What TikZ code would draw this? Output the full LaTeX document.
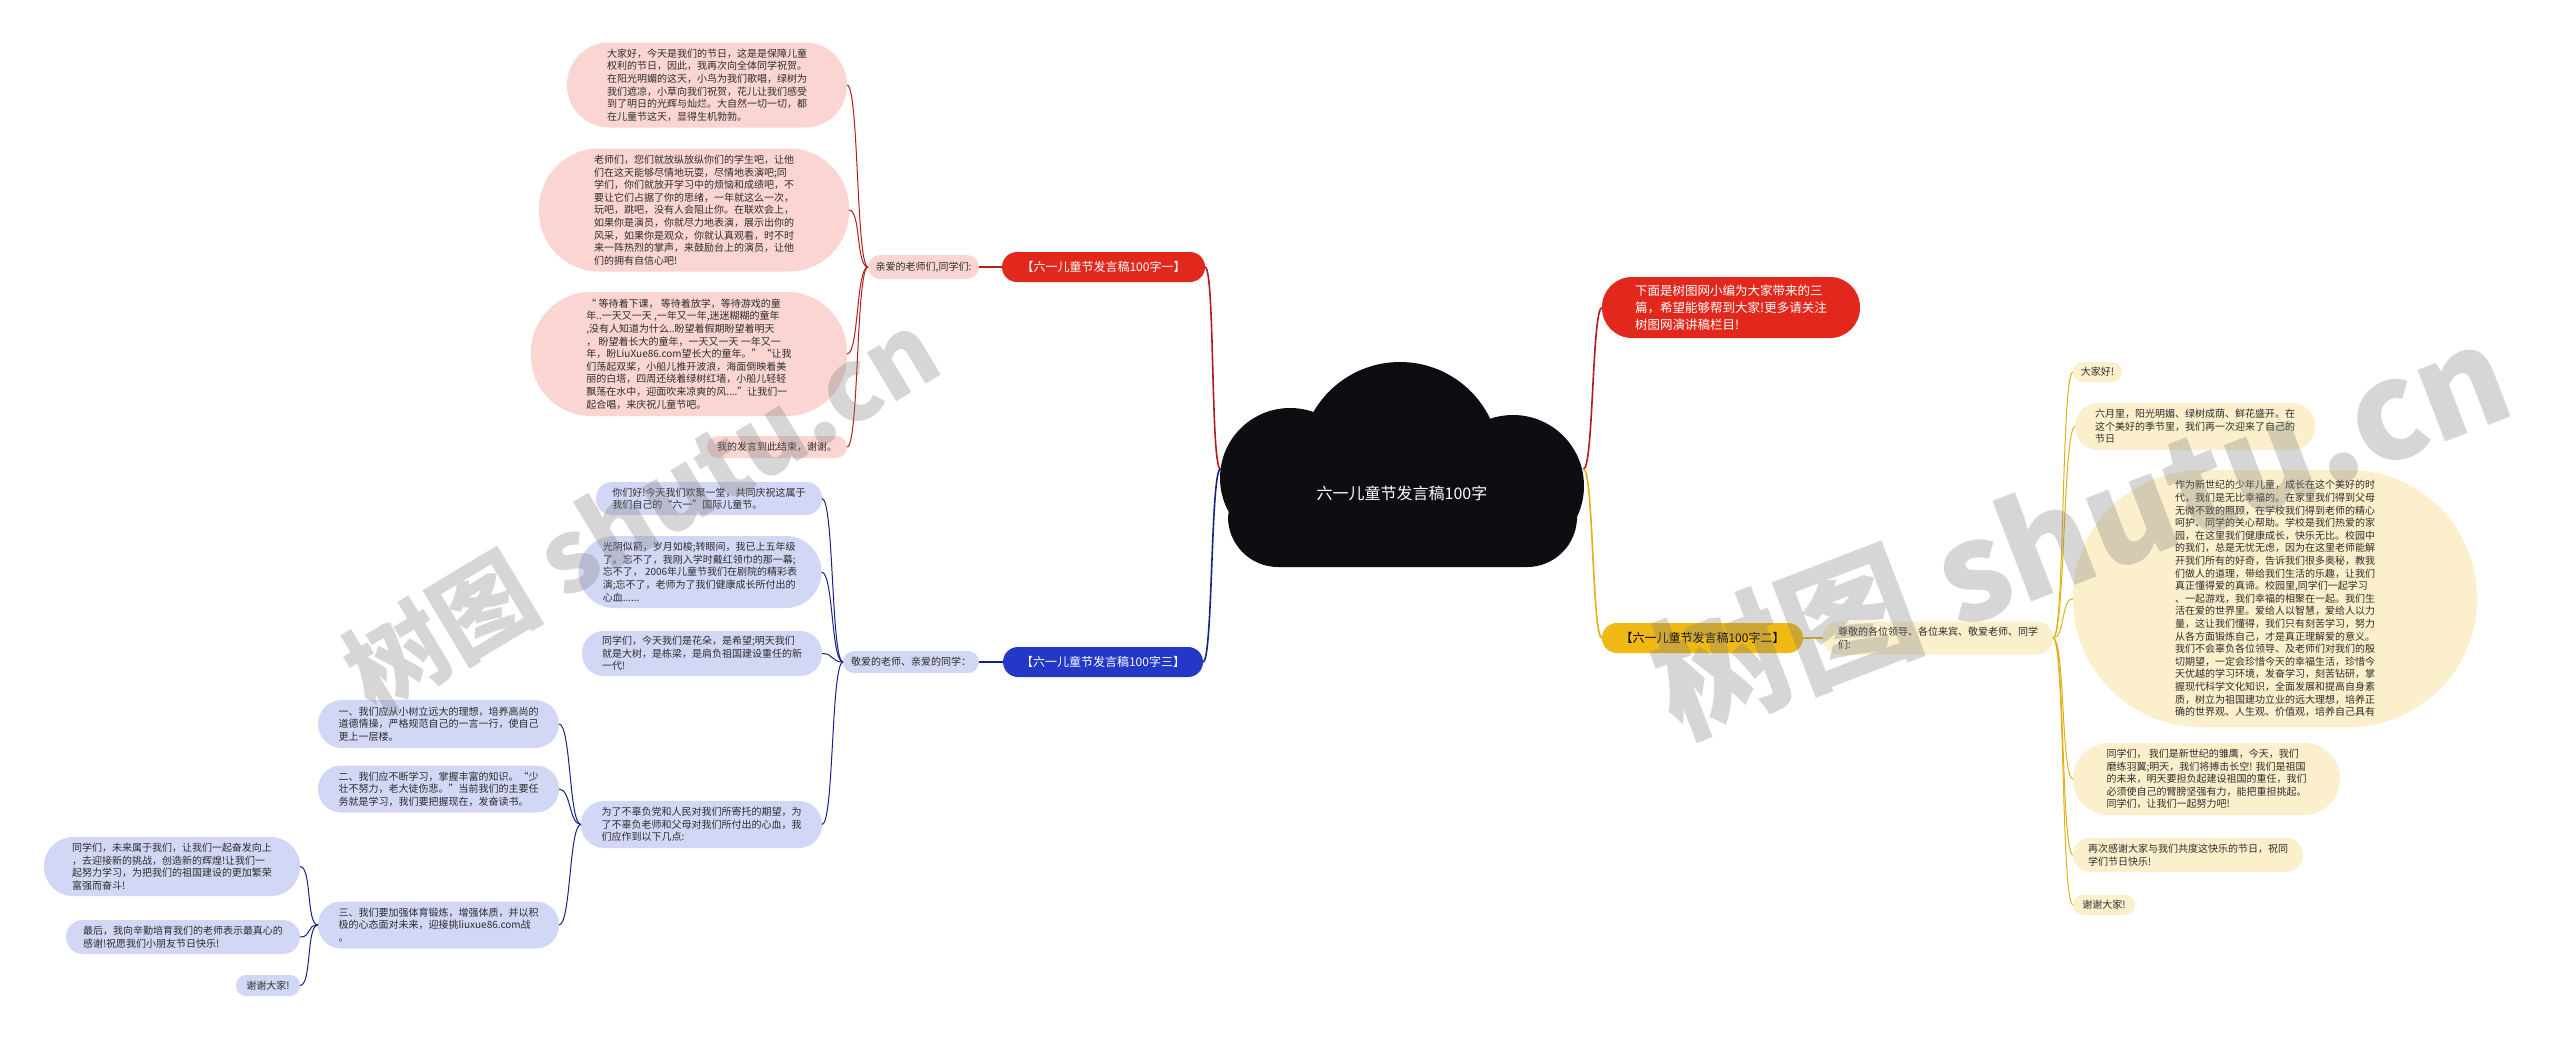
\documentclass[tikz,border=0pt]{standalone}
\usepackage{fontspec}
\setmainfont{Noto Sans CJK SC}
\usetikzlibrary{positioning}

\definecolor{redfill}{RGB}{226,40,28}
\definecolor{redline}{RGB}{178,28,28}
\definecolor{pinkfill}{RGB}{250,213,210}
\definecolor{bluefill}{RGB}{36,56,200}
\definecolor{blueline}{RGB}{22,34,128}
\definecolor{lavfill}{RGB}{210,215,245}
\definecolor{goldfill}{RGB}{240,184,18}
\definecolor{goldline}{RGB}{226,176,22}
\definecolor{creamfill}{RGB}{252,239,204}
\definecolor{inkdark}{RGB}{45,45,45}
\definecolor{cloudfill}{RGB}{14,14,18}

\begin{document}
\begin{tikzpicture}[
    x=1pt, y=-1pt,
    every node/.style={inner sep=0pt, outer sep=0pt},
    leaf/.style={rectangle, rounded corners=11pt, align=left, text=inkdark, font=\fontsize{10}{12.6}\selectfont},
    pinkleaf/.style={leaf, fill=pinkfill},
    lavleaf/.style={leaf, fill=lavfill},
    creamleaf/.style={leaf, fill=creamfill},
    branch/.style={rectangle, rounded corners=15pt, minimum height=30pt, font=\fontsize{12}{14}\selectfont, text=white},
    redlink/.style={draw=redline, line width=1.6pt},
    redtwig/.style={draw=redline, line width=1pt},
    bluelink/.style={draw=blueline, line width=1.6pt},
    bluetwig/.style={draw=blueline, line width=1pt},
    goldlink/.style={draw=goldline, line width=1.6pt},
    goldtwig/.style={draw=goldline, line width=1pt},
    watermark/.style={text=gray, text opacity=0.32, font=\fontsize{100}{100}\selectfont\bfseries}
]
    \fill[white] (0,0) rectangle (2560,1039);
    \useasboundingbox (0,0) rectangle (2560,1039);

    \fill[cloudfill] (1400,462) circle[radius=100pt] (1290,478) circle[radius=70pt] (1513,486) circle[radius=71pt];
    \fill[cloudfill, rounded corners=50pt] (1228,470) rectangle (1577,567);
    \node[font=\fontsize{16}{18}\selectfont, text=white, minimum width=363pt] (cloud) at (1402,493) {六一儿童节发言稿100字};

    \node[branch, fill=redfill, minimum width=203pt] (redmain) at (1103.5,267) {【六一儿童节发言稿100字一】};
    \node[pinkleaf, left=23pt of redmain, minimum width=111pt, minimum height=24pt, rounded corners=12pt] (redsub) {亲爱的老师们,同学们:};

    \node[pinkleaf, minimum width=280pt, minimum height=85pt, rounded corners=42pt] (p1) at (707,85) {大家好，今天是我们的节日，这是是保障儿童\\权利的节日，因此，我再次向全体同学祝贺。\\在阳光明媚的这天，小鸟为我们歌唱，绿树为\\我们遮凉，小草向我们祝贺，花儿让我们感受\\到了明日的光辉与灿烂。大自然一切一切，都\\在儿童节这天，显得生机勃勃。};
    \node[pinkleaf, minimum width=310pt, minimum height=123pt, rounded corners=60pt] (p2) at (694,210) {老师们，您们就放纵放纵你们的学生吧，让他\\们在这天能够尽情地玩耍，尽情地表演吧;同\\学们，你们就放开学习中的烦恼和成绩吧，不\\要让它们占据了你的思绪，一年就这么一次，\\玩吧，跳吧，没有人会阻止你。在联欢会上，\\如果你是演员，你就尽力地表演，展示出你的\\风采，如果你是观众，你就认真观看，时不时\\来一阵热烈的掌声，来鼓励台上的演员，让他\\们的拥有自信心吧!};
    \node[pinkleaf, minimum width=316pt, minimum height=124pt, rounded corners=60pt] (p3) at (689,354) {“ 等待着下课， 等待着放学，等待游戏的童\\年..一天又一天 ,一年又一年,迷迷糊糊的童年\\,没有人知道为什么..盼望着假期盼望着明天\\， 盼望着长大的童年，一天又一天 一年又一\\年，盼LiuXue86.com望长大的童年。”“让我\\们荡起双桨，小船儿推开波浪，海面倒映着美\\丽的白塔，四周还绕着绿树红墙，小船儿轻轻\\飘荡在水中，迎面吹来凉爽的风....”让我们一\\起合唱，来庆祝儿童节吧。};
    \node[pinkleaf, minimum width=140pt, minimum height=22pt] (p4) at (777,447) {我的发言到此结束，谢谢。};

    \node[branch, fill=bluefill, minimum width=200pt] (bluemain) at (1103,662) {【六一儿童节发言稿100字三】};
    \node[lavleaf, left=24pt of bluemain, minimum width=136pt, minimum height=22pt] (bluesub) {敬爱的老师、亲爱的同学：};

    \node[lavleaf, minimum width=226pt, minimum height=33pt, rounded corners=16pt] (b1) at (709,498.5) {你们好!今天我们欢聚一堂，共同庆祝这属于\\我们自己的“六一”国际儿童节。};
    \node[lavleaf, minimum width=243pt, minimum height=72pt, rounded corners=36pt] (b2) at (700,572) {光阴似箭，岁月如梭;转眼间，我已上五年级\\了。忘不了，我刚入学时戴红领巾的那一幕;\\忘不了， 2006年儿童节我们在剧院的精彩表\\演;忘不了，老师为了我们健康成长所付出的\\心血......};
    \node[lavleaf, minimum width=240pt, minimum height=45pt, rounded corners=22pt] (b3) at (702,653.5) {同学们，今天我们是花朵，是希望;明天我们\\就是大树，是栋梁，是肩负祖国建设重任的新\\一代!};
    \node[lavleaf, minimum width=241pt, minimum height=47pt, rounded corners=23pt] (b4) at (701.5,824.5) {为了不辜负党和人民对我们所寄托的期望，为\\了不辜负老师和父母对我们所付出的心血，我\\们应作到以下几点:};

    \node[lavleaf, minimum width=241pt, minimum height=48pt, rounded corners=24pt] (c1) at (438.5,724) {一、我们应从小树立远大的理想，培养高尚的\\道德情操，严格规范自己的一言一行，使自己\\更上一层楼。};
    \node[lavleaf, minimum width=241pt, minimum height=47pt, rounded corners=23pt] (c2) at (438.5,789) {二、我们应不断学习，掌握丰富的知识。“少\\壮不努力，老大徒伤悲。”当前我们的主要任\\务就是学习，我们要把握现在，发奋读书。};
    \node[lavleaf, minimum width=241pt, minimum height=47pt, rounded corners=23pt] (c3) at (438.5,925) {三、我们要加强体育锻炼，增强体质，并以积\\极的心态面对未来，迎接挑liuxue86.com战\\。};

    \node[lavleaf, minimum width=256pt, minimum height=59pt, rounded corners=29pt] (d1) at (172,866.5) {同学们，未来属于我们，让我们一起奋发向上\\，去迎接新的挑战，创造新的辉煌!让我们一\\起努力学习，为把我们的祖国建设的更加繁荣\\富强而奋斗!};
    \node[lavleaf, minimum width=234pt, minimum height=34pt, rounded corners=17pt] (d2) at (183,937) {最后，我向辛勤培育我们的老师表示最真心的\\感谢!祝愿我们小朋友节日快乐!};
    \node[lavleaf, minimum width=64pt, minimum height=21pt, rounded corners=10pt] (d3) at (268,985.5) {谢谢大家!};

    \node[branch, fill=redfill, minimum width=258pt, minimum height=61pt, rounded corners=30pt, align=left, font=\fontsize{12.5}{17}\selectfont] (redR) at (1731,307.5) {下面是树图网小编为大家带来的三\\篇，希望能够帮到大家!更多请关注\\树图网演讲稿栏目!};

    \node[branch, fill=goldfill, text=black, minimum width=201pt] (goldmain) at (1702.5,638) {【六一儿童节发言稿100字二】};
    \node[creamleaf, right=20pt of goldmain, minimum width=230pt, minimum height=33pt, rounded corners=16pt] (goldsub) {尊敬的各位领导、各位来宾、敬爱老师、同学\\们:};

    \node[creamleaf, minimum width=49pt, minimum height=20pt, rounded corners=10pt] (y1) at (2097.5,372) {大家好!};
    \node[creamleaf, minimum width=240pt, minimum height=47pt, rounded corners=23pt] (y2) at (2195,426.5) {六月里，阳光明媚、绿树成荫、鲜花盛开。在\\这个美好的季节里，我们再一次迎来了自己的\\节日};
    \node[creamleaf, minimum width=404pt, minimum height=257pt, rounded corners=128pt] (y3) at (2275,598.5) {作为新世纪的少年儿童，成长在这个美好的时\\代，我们是无比幸福的。在家里我们得到父母\\无微不致的照顾，在学校我们得到老师的精心\\呵护、同学的关心帮助。学校是我们热爱的家\\园，在这里我们健康成长，快乐无比。校园中\\的我们，总是无忧无虑，因为在这里老师能解\\开我们所有的好奇，告诉我们很多奥秘，教我\\们做人的道理，带给我们生活的乐趣，让我们\\真正懂得爱的真谛。校园里,同学们一起学习\\、一起游戏，我们幸福的相聚在一起。我们生\\活在爱的世界里。爱给人以智慧，爱给人以力\\量，这让我们懂得，我们只有刻苦学习，努力\\从各方面锻炼自己，才是真正理解爱的意义。\\我们不会辜负各位领导、及老师们对我们的殷\\切期望，一定会珍惜今天的幸福生活，珍惜今\\天优越的学习环境，发奋学习，刻苦钻研，掌\\握现代科学文化知识，全面发展和提高自身素\\质，树立为祖国建功立业的远大理想，培养正\\确的世界观、人生观、价值观，培养自己具有};
    \node[creamleaf, minimum width=267pt, minimum height=72pt, rounded corners=36pt] (y4) at (2206.5,779) {同学们， 我们是新世纪的雏鹰，今天，我们\\磨练羽翼;明天，我们将搏击长空! 我们是祖国\\的未来，明天要担负起建设祖国的重任，我们\\必须使自己的臂膀坚强有力，能把重担挑起。\\同学们，让我们一起努力吧!};
    \node[creamleaf, minimum width=230pt, minimum height=34pt, rounded corners=17pt] (y5) at (2188,855) {再次感谢大家与我们共度这快乐的节日，祝同\\学们节日快乐!};
    \node[creamleaf, minimum width=62pt, minimum height=20pt, rounded corners=10pt] (y6) at (2104,905) {谢谢大家!};

    \draw[redlink] ([yshift=24pt]cloud.west) .. controls +(-10,0) and +(10,0) .. (redmain.east);
    \draw[redlink] (redmain.west) -- (redsub.east);
    \draw[redtwig] (redsub.west) .. controls +(-12,0) and +(12,0) .. (p1.east);
    \draw[redtwig] (redsub.west) .. controls +(-12,0) and +(12,0) .. (p2.east);
    \draw[redtwig] (redsub.west) .. controls +(-12,0) and +(12,0) .. (p3.east);
    \draw[redtwig] (redsub.west) .. controls +(-12,0) and +(12,0) .. (p4.east);

    \draw[bluelink] ([yshift=24pt]cloud.west) .. controls +(-10,0) and +(10,0) .. (bluemain.east);
    \draw[bluelink] (bluemain.west) -- (bluesub.east);
    \draw[bluetwig] (bluesub.west) .. controls +(-12,0) and +(12,0) .. (b1.east);
    \draw[bluetwig] (bluesub.west) .. controls +(-12,0) and +(12,0) .. (b2.east);
    \draw[bluetwig] (bluesub.west) .. controls +(-12,0) and +(12,0) .. (b3.east);
    \draw[bluetwig] (bluesub.west) .. controls +(-12,0) and +(12,0) .. (b4.east);
    \draw[bluetwig] (b4.west) .. controls +(-12,0) and +(12,0) .. (c1.east);
    \draw[bluetwig] (b4.west) .. controls +(-12,0) and +(12,0) .. (c2.east);
    \draw[bluetwig] (b4.west) .. controls +(-12,0) and +(12,0) .. (c3.east);
    \draw[bluetwig] (c3.west) .. controls +(-12,0) and +(12,0) .. (d1.east);
    \draw[bluetwig] (c3.west) .. controls +(-12,0) and +(12,0) .. (d2.east);
    \draw[bluetwig] (c3.west) .. controls +(-12,0) and +(12,0) .. (d3.east);

    \draw[redlink] ([yshift=24pt]cloud.east) .. controls +(10,0) and +(-10,0) .. (redR.west);
    \draw[goldlink] ([yshift=24pt]cloud.east) .. controls +(10,0) and +(-10,0) .. (goldmain.west);
    \draw[goldlink] (goldmain.east) -- (goldsub.west);
    \draw[goldtwig] (goldsub.east) .. controls +(12,0) and +(-12,0) .. (y1.west);
    \draw[goldtwig] (goldsub.east) .. controls +(12,0) and +(-12,0) .. (y2.west);
    \draw[goldtwig] (goldsub.east) .. controls +(12,0) and +(-12,0) .. (y3.west);
    \draw[goldtwig] (goldsub.east) .. controls +(12,0) and +(-12,0) .. (y4.west);
    \draw[goldtwig] (goldsub.east) .. controls +(12,0) and +(-12,0) .. (y5.west);
    \draw[goldtwig] (goldsub.east) .. controls +(12,0) and +(-12,0) .. (y6.west);

    \node[watermark, rotate=31] (markleft) at (641,511) {树图 shutu.cn};
    \node[watermark, rotate=21, font=\fontsize{135}{135}\selectfont\bfseries] (markright) at (2080,528) {树图 shutu.cn};
\end{tikzpicture}
\end{document}
